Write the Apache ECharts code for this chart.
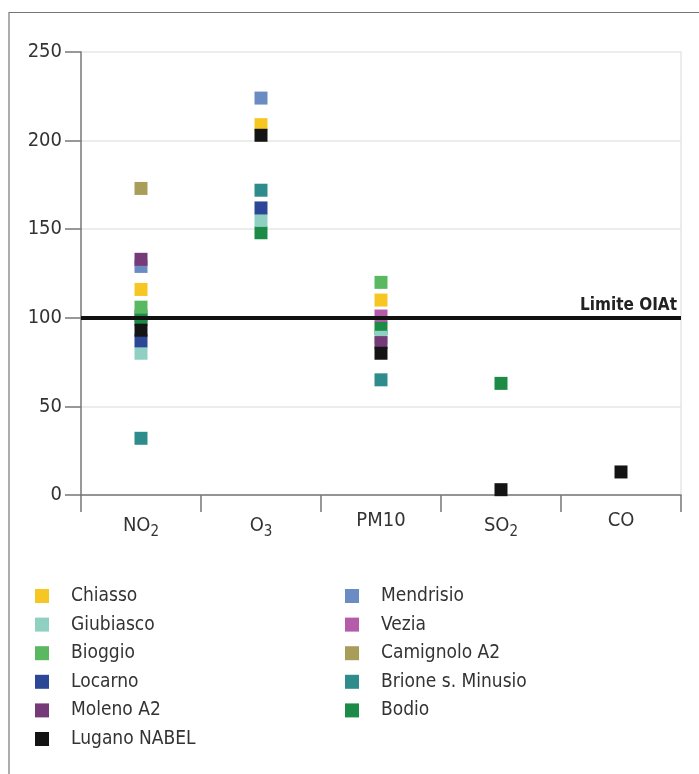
<!DOCTYPE html>
<html><head><meta charset="utf-8">
<script src="https://cdn.jsdelivr.net/npm/echarts@6/dist/echarts.min.js"></script>
<style>html,body{margin:0;padding:0;background:#fff;}#c{width:699px;height:774px;}</style>
</head><body><div id="c"></div>
<script>
const categories = ['NO2', 'O3', 'PM10', 'SO2', 'CO'];
const yTicks = [0, 50, 100, 150, 200, 250];
const limitValue = 100;
const limitLabel = 'Limite OIAt';

const stations = ['Chiasso', 'Giubiasco', 'Bioggio', 'Locarno', 'Moleno A2', 'Lugano NABEL',
                  'Mendrisio', 'Vezia', 'Camignolo A2', 'Brione s. Minusio', 'Bodio'];
// values per pollutant: NO2, O3, PM10, SO2, CO
const chiasso   = [116, 209, 110, null, null];
const giubiasco = [80, 155, 89, null, null];
const bioggio   = [106, null, 120, null, null];
const locarno   = [87, 162, null, null, null];
const moleno    = [133, null, 86, null, null];
const lugano    = [93, 203, 80, 3, 13];
const mendrisio = [129, 224, null, null, null];
const vezia     = [101, null, 101, null, null];
const camignolo = [173, null, null, null, null];
const brione    = [32, 172, 65, null, null];
const bodio     = [99, 148, 94, 63, null];
const stationValues = [chiasso, giubiasco, bioggio, locarno, moleno, lugano,
                       mendrisio, vezia, camignolo, brione, bodio];
const colors = ['#f6c623', '#8fd0c2', '#59b860', '#2c4796', '#763a78', '#141414',
                '#6a8cc3', '#b45ba9', '#a89e5a', '#2e8c8c', '#1b8b46'];

const FONT = '"DejaVu Sans Condensed", "Liberation Sans Narrow", sans-serif';
const chart = echarts.init(document.getElementById('c'), null, {renderer: 'canvas'});

const series = stations.map((name, i) => ({
  name: name,
  type: 'scatter',
  symbol: 'rect',
  symbolSize: 13,
  itemStyle: {color: colors[i], opacity: 1},
  data: stationValues[i].map((v, j) => v === null ? null : [categories[j], v]).filter(d => d),
  z: i < 6 ? 4 : 3
}));
series.push({
  name: 'limit', type: 'line', data: [], silent: true,
  markLine: {
    silent: true, symbol: 'none',
    lineStyle: {color: '#111', width: 4, type: 'solid'},
    label: {show: true, position: 'insideEndTop', formatter: limitLabel,
            fontFamily: FONT, fontWeight: 'bold', fontSize: 17, color: '#222', distance: [4, 4]},
    data: [{yAxis: limitValue}]
  }
});

const subs = {NO2: 'NO{s|2}', O3: 'O{s|3}', SO2: 'SO{s|2}'};
const legendText = {fontFamily: FONT, fontSize: 19, color: '#333', lineHeight: 22, padding: [0, 0, 0, 17]};

chart.setOption({
  animation: false,
  backgroundColor: '#fff',
  grid: {left: 81, right: 18, top: 52, bottom: 279, containLabel: false},
  xAxis: {
    type: 'category', data: categories, boundaryGap: true,
    axisLine: {lineStyle: {color: '#777', width: 1.5}},
    axisTick: {show: true, length: 17, lineStyle: {color: '#777', width: 1.5}, alignWithLabel: false},
    axisLabel: {
      margin: 16, fontFamily: FONT, fontSize: 20, color: '#333',
      formatter: v => subs[v] || v,
      rich: {s: {fontFamily: FONT, fontSize: 15, color: '#333', verticalAlign: 'bottom', padding: [14, 0, 0, 0]}}
    },
    splitLine: {show: false}
  },
  yAxis: [{
    type: 'value', min: 0, max: 250, interval: 50,
    axisLine: {show: true, lineStyle: {color: '#777', width: 1.5}},
    axisTick: {show: true, length: 16, lineStyle: {color: '#777', width: 1.5}},
    axisLabel: {margin: 19, fontFamily: FONT, fontSize: 20, color: '#333',
                formatter: v => yTicks.includes(v) ? String(v) : ''},
    splitLine: {show: true, lineStyle: {color: '#e6e6e6', width: 1.5}}
  }, {
    type: 'value', min: 0, max: 250, interval: 50, position: 'right',
    axisLine: {show: true, lineStyle: {color: '#e6e6e6', width: 1.5}},
    axisTick: {show: false}, axisLabel: {show: false}, splitLine: {show: false}
  }],
  legend: [{
    data: stations.slice(0, 6), orient: 'vertical', left: 30, top: 580,
    icon: 'rect', itemWidth: 14, itemHeight: 14, itemGap: 6.6,
    textStyle: legendText, selectedMode: false
  }, {
    data: stations.slice(6), orient: 'vertical', left: 340, top: 580,
    icon: 'rect', itemWidth: 14, itemHeight: 14, itemGap: 6.6,
    textStyle: legendText, selectedMode: false
  }],
  graphic: [{
    type: 'polyline', silent: true,
    shape: {points: [[9, 774], [9, 12.5], [699, 12.5]]},
    style: {stroke: '#777', lineWidth: 1.2, fill: null}
  }],
  series: series
});
</script></body></html>
